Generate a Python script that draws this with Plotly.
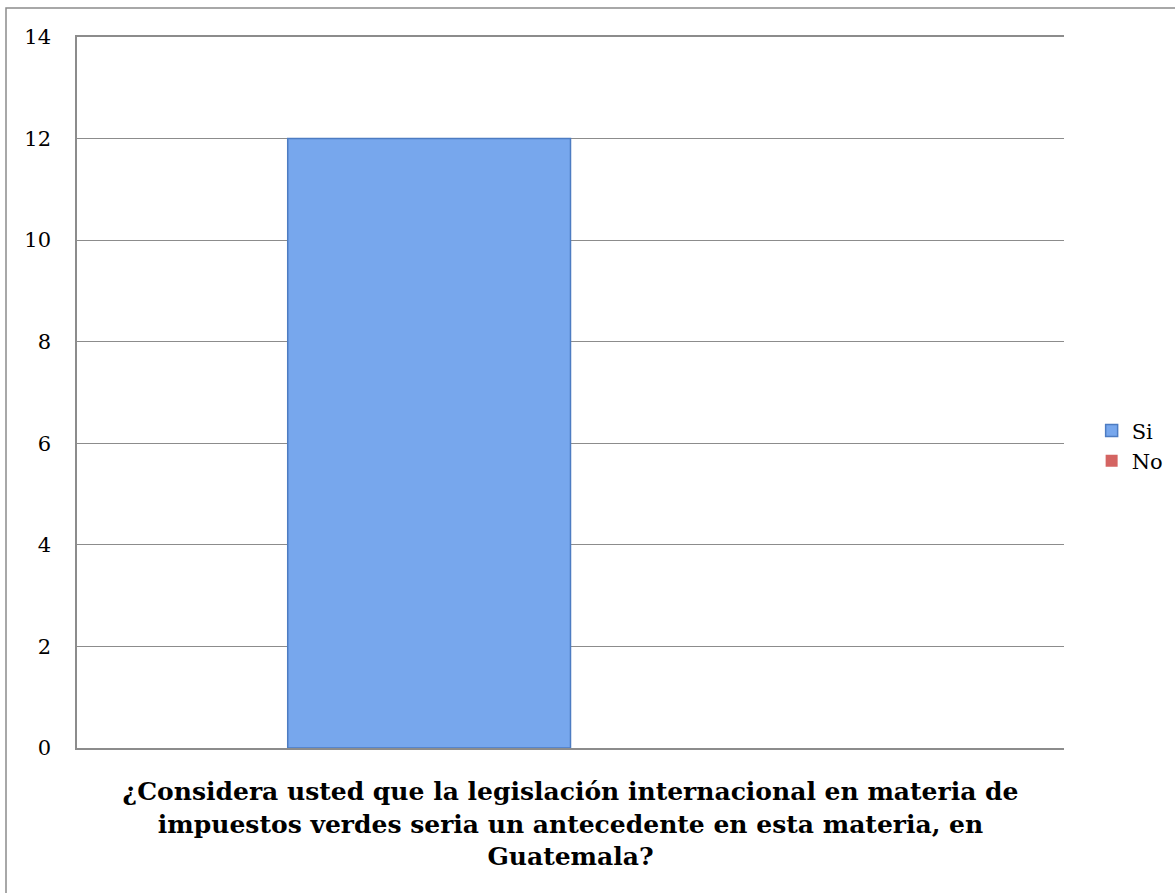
import plotly.graph_objects as go

categories = [""]
series_names = ["Si", "No"]
si_values = [12]
no_values = [0]
y_ticks = [0, 2, 4, 6, 8, 10, 12, 14]
title_text = ("¿Considera usted que la legislación internacional en materia de<br>"
              "impuestos verdes seria un antecedente en esta materia, en<br>Guatemala?")

FONT = "DejaVu Serif, Liberation Serif, serif"

fig = go.Figure()
fig.add_trace(go.Bar(
    x=categories, y=si_values, name=series_names[0],
    marker=dict(color="#77a7ed", line=dict(color="#4d7cc2", width=1.5)),
))
fig.add_trace(go.Bar(
    x=categories, y=no_values, name=series_names[1],
    marker=dict(color="#d46462", line=dict(color="#d46462", width=0)),
))

fig.update_layout(
    width=1175, height=893,
    paper_bgcolor="white", plot_bgcolor="white",
    margin=dict(l=77, r=111, t=37, b=145, autoexpand=False),
    barmode="group", bargap=0.427, bargroupgap=0,
    font=dict(family=FONT, color="black", size=20),
    showlegend=True,
    legend=dict(x=1.028, y=0.425, xanchor="left", yanchor="middle",
                font=dict(family=FONT, size=21), itemwidth=30,
                tracegroupgap=6),
    xaxis=dict(
        showline=True, linecolor="#8c8c8c", linewidth=1.5, mirror=True,
        showticklabels=False, ticks="",
        title=dict(text="<b>" + title_text + "</b>",
                   font=dict(family=FONT, size=25), standoff=34),
    ),
    yaxis=dict(
        range=[0, 14], tickvals=y_ticks, ticktext=[str(v) for v in y_ticks],
        showgrid=True, gridcolor="#8c8c8c", gridwidth=1.2,
        showline=True, linecolor="#8c8c8c", linewidth=1.5,
        ticks="outside", ticklen=20, tickcolor="rgba(0,0,0,0)",
        tickfont=dict(family=FONT, size=21),
        zeroline=False,
    ),
    shapes=[dict(type="rect", xref="paper", yref="paper",
                 x0=(6 - 77) / 987, x1=(1185 - 77) / 987,
                 y0=(748 - 905) / 711, y1=(748 - 8) / 711,
                 line=dict(color="#8c8c8c", width=1.5), layer="below")],
)

fig.write_html("out.html")
